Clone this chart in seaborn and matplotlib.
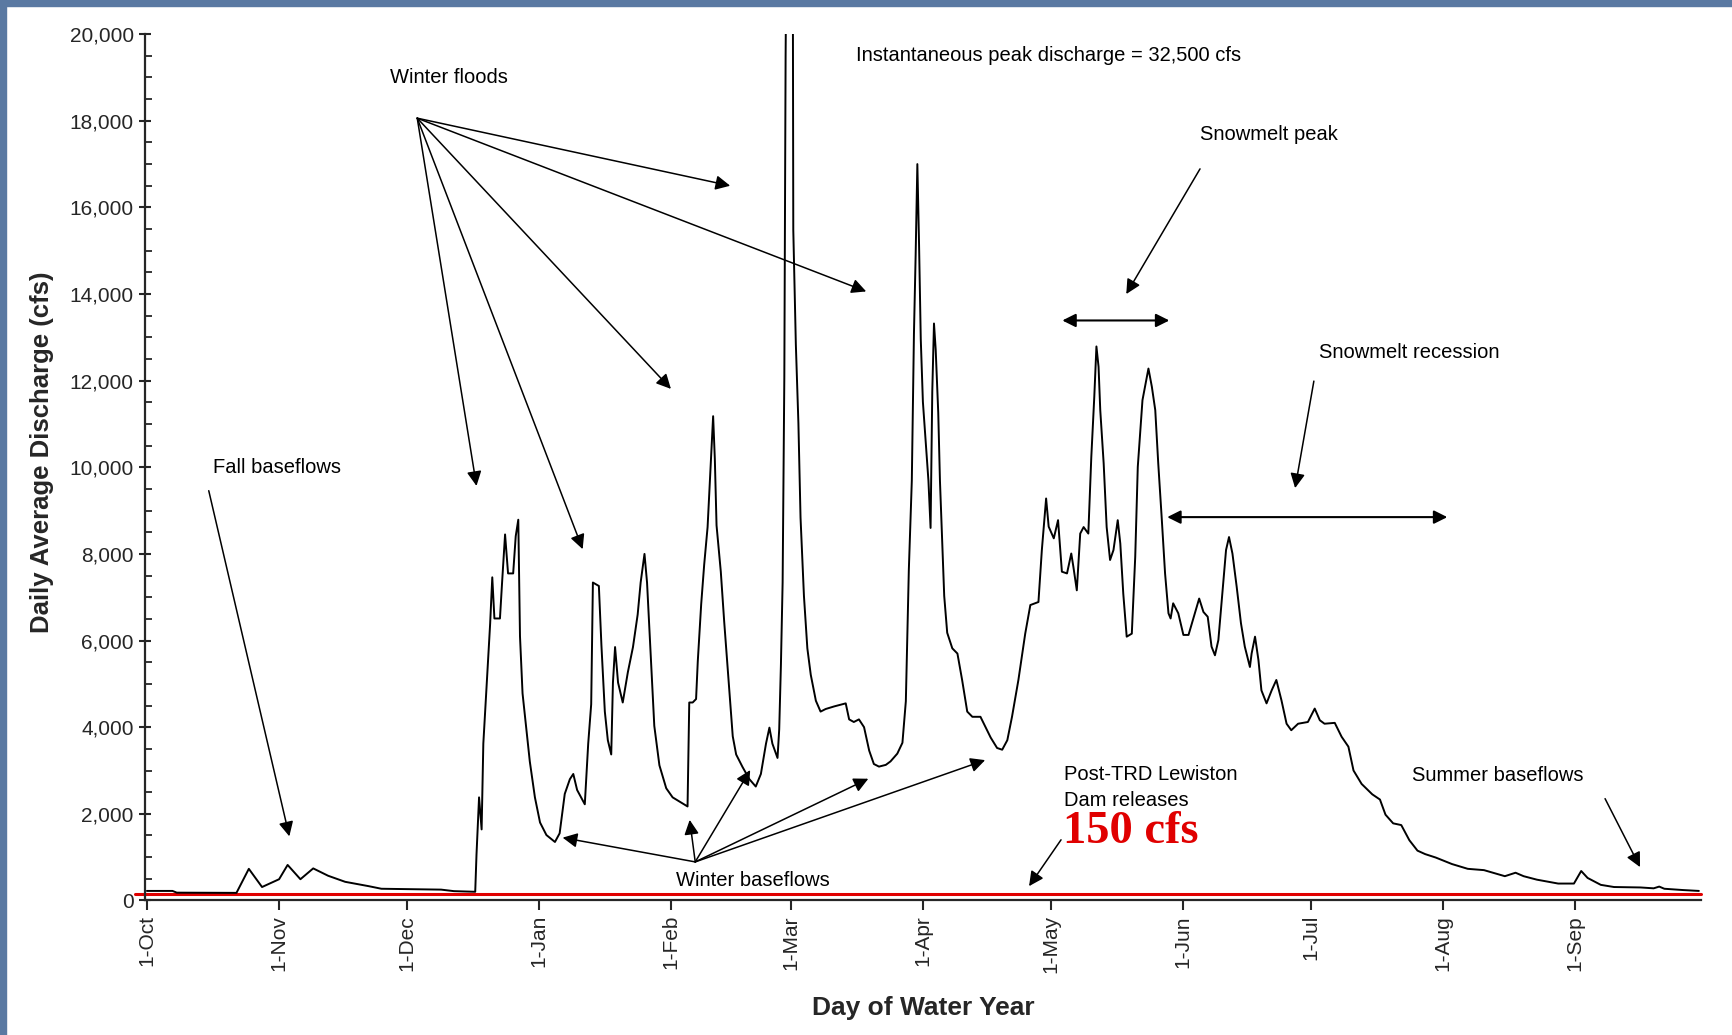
import numpy as np
import pandas as pd
import matplotlib.pyplot as plt
import matplotlib.patches as mpatches
import seaborn as sns

day = [0, 6, 7, 21, 23.9, 27, 31, 33, 36, 39, 42.5, 46.5, 52, 55, 69, 72, 77,
       77.3, 77.9, 78.5, 78.9, 79.7, 80.5, 81, 81.5, 82.8, 83.3, 84, 84.7, 85.9, 86.5, 87.1,
       87.5, 88.1, 88.9, 89.8, 91, 92.2, 93.7, 95.7, 96.8, 98, 99.2, 100, 100.9, 102.7,
       103.5, 104.2, 104.6, 106, 106.6, 107.4, 108.1, 108.9, 109.3, 109.8, 110.5, 111.6,
       112.8, 114, 115.1, 115.8, 116.7, 117.3, 117.9, 119, 120.2, 121.8, 123.3, 125.3,
       126.8, 127.2, 128, 128.8, 129.2, 130, 130.7, 131.5, 132.3, 132.8, 133.2, 133.6,
       134.6, 135.4, 136.6, 137.4, 138.2, 139.7, 141.3, 142.8, 144, 145.2, 146, 146.7,
       147.9, 148.3, 148.7, 149.1, 149.5, 149.8, 150.6, 151.5, 151.6, 152.2, 152.8, 153.3, 154.1,
       154.9, 155.7, 156.9, 158, 159.2, 161.2, 163.9, 164.7, 165.8, 167, 168.2, 169.4,
       170.5, 171.7, 173.3, 174.4, 176, 177.2, 178, 178.7, 179.4, 179.9, 180.3, 180.7,
       181.1, 181.5, 182, 182.6, 183.3, 183.8, 184.2, 184.6, 185, 185.6, 186, 186.5, 187,
       187.7, 188.9, 190.1, 191.2, 192.4, 193.6, 195.5, 196.7, 197.9, 199.4, 200.6, 201.8,
       202.9, 204.4, 206, 207.2, 209.1, 209.9, 210.9, 211.5, 212.7, 213.7, 214.6, 215.8,
       216.8, 217.3, 218.1, 218.9, 219.7, 220.8, 221.5, 222.2, 222.7, 223.2, 223.6, 224.4,
       225.1, 225.9, 226.7, 227.7, 228.3, 229, 229.8, 231, 231.8, 232.4, 233.5, 234.9,
       235.7, 236.5, 237.2, 238, 238.8, 239.6, 240.1, 240.7, 241.9, 243.1, 244.3, 245.8,
       246.8, 247.8, 248.8, 249.7, 250.5, 251.3, 252.1, 253.1, 253.8, 254.6, 255.6, 256.6,
       257.5, 258.7, 259.1, 259.9, 260.7, 261.4, 262.6, 263.8, 264.9, 266.1, 267.3, 268.4,
       270, 272.3, 273.9, 275.1, 276.2, 278.6, 280.2, 281.8, 283, 284.9, 287.4, 289.2,
       290.5, 292.3, 294.2, 296.1, 298, 299.8, 302.3, 306.1, 309.8, 313.6, 318.5, 321,
       322.9, 326, 331, 334.7, 336.4, 337.9, 341, 344.1, 350.3, 353.4, 354.7, 355.9, 360.3, 364]
cfs = [220, 220, 180, 175, 730, 310, 490, 820, 490, 740, 570, 430, 330, 270, 250, 215, 200,
       1060, 2380, 1640, 3620, 4990, 6390, 7460, 6510, 6510, 7340, 8450, 7550, 7550, 8410, 8790,
       6100, 4780, 4030, 3210, 2380, 1800, 1510, 1350, 1550, 2460, 2800, 2920, 2550, 2220,
       3620, 4530, 7340, 7260, 5890, 4360, 3700, 3370, 5030, 5850, 5030, 4570,
       5270, 5850, 6600, 7340, 8000, 7340, 6180, 4030, 3120, 2590, 2380, 2260,
       2170, 4570, 4570, 4650, 5520, 6840, 7750, 8620, 10190, 11180, 10190, 8660,
       7590, 6430, 4860, 3790, 3370, 3080, 2800, 2630, 2920, 3620, 3990, 3620,
       3290, 3950, 5440, 7340, 12090, 19500, 30000, 21000, 15480, 12840, 11020, 8840, 7030,
       5820, 5210, 4610, 4360, 4420, 4480, 4550, 4180, 4120, 4180, 4000, 3460,
       3150, 3090, 3130, 3210, 3390, 3640, 4600, 7630, 9690, 13080, 14900, 17000,
       15140, 12960, 11510, 10660, 9690, 8600, 11750, 13320, 12720, 11260, 9690, 8360, 7030,
       6180, 5820, 5700, 5090, 4360, 4240, 4240, 4000, 3760, 3520, 3480, 3700,
       4240, 5090, 6160, 6820, 6890, 8090, 9280, 8630, 8360, 8780, 7590, 7550,
       8010, 7700, 7160, 8470, 8620, 8470, 10240, 11630, 12790, 12320, 11320, 10090,
       8620, 7860, 8090, 8780, 8240, 7080, 6090, 6160, 7930, 10010, 11550, 12280,
       11860, 11320, 10090, 8850, 7550, 6630, 6510, 6860, 6630, 6130, 6130, 6630,
       6970, 6660, 6550, 5860, 5660, 6010, 6930, 8090, 8390, 8010, 7240, 6400,
       5860, 5390, 5700, 6090, 5550, 4850, 4550, 4850, 5090, 4620, 4080, 3930,
       4080, 4120, 4430, 4160, 4080, 4100, 3780, 3550, 3000, 2690, 2450, 2330,
       1980, 1780, 1740, 1390, 1150, 1070, 990, 840, 730, 700, 560, 640,
       560, 480, 390, 390, 680, 520, 360, 310, 300, 280, 320, 270, 240, 220]

month_labels = ["1-Oct", "1-Nov", "1-Dec", "1-Jan", "1-Feb", "1-Mar",
                "1-Apr", "1-May", "1-Jun", "1-Jul", "1-Aug", "1-Sep"]
month_days = [31, 30, 31, 31, 28, 31, 30, 31, 30, 31, 31, 30]
release_cfs = 150

df = pd.DataFrame({"day": day, "cfs": cfs})
month_starts = np.concatenate([[0], np.cumsum(month_days)[:-1]])

sns.set_style("ticks")
plt.rcParams["font.family"] = ["Liberation Sans", "DejaVu Sans"]

fig = plt.figure(figsize=(17.32, 10.35), dpi=100)
fig.patch.set_facecolor("white")
# slide background strips (top and left)
blue = "#5a79a2"
fig.patches.append(mpatches.Rectangle((0, 1 - 6 / 1035), 1, 6 / 1035, transform=fig.transFigure,
                                      color=blue, zorder=0))
fig.patches.append(mpatches.Rectangle((0, 0), 6 / 1732, 1, transform=fig.transFigure,
                                      color=blue, zorder=0))

ax = fig.add_axes([0.0836, 0.130, 0.8985, 0.837])

sns.lineplot(data=df, x="day", y="cfs", ax=ax, color="black", lw=1.4, zorder=3)
ax.axhline(release_cfs, xmin=-0.006, color="#e00000", lw=2.2, zorder=2, clip_on=False)

ax.set_xlim(-0.5, 364.5)
ax.set_ylim(0, 20000)
ax.set_yticks(np.arange(0, 20001, 2000))
ax.set_yticks(np.arange(0, 20001, 500), minor=True)
ax.set_yticklabels([f"{v:,}" for v in range(0, 20001, 2000)], fontsize=15)
ax.set_xticks(month_starts)
ax.set_xticklabels(month_labels, rotation=90, fontsize=15)
ax.tick_params(axis="y", which="major", direction="inout", length=9, width=1.5)
ax.tick_params(axis="y", which="minor", direction="in", length=5, width=1.3)
ax.tick_params(axis="x", which="major", direction="out", length=7, width=1.5)

for side in ["top", "right"]:
    ax.spines[side].set_visible(False)
ax.spines["left"].set_linewidth(1.6)
ax.spines["bottom"].set_linewidth(1.6)

ax.set_ylabel("Daily Average Discharge (cfs)", fontsize=18.5, fontweight="bold")
ax.set_xlabel("Day of Water Year", fontsize=19, fontweight="bold")
ax.yaxis.set_label_coords(-0.066, 0.517)
ax.yaxis.label.set_va("center")
ax.xaxis.set_label_coords(0.5, -0.124)
ax.xaxis.label.set_va("center")

# annotations
txt = dict(fontsize=14.5, color="black", ha="left", va="center")
arr = dict(arrowstyle="-|>", color="black", lw=1.1, mutation_scale=22, shrinkA=0, shrinkB=0)
dbl = dict(arrowstyle="<|-|>", color="black", lw=1.5, mutation_scale=20, shrinkA=0, shrinkB=0)

ax.text(57, 19000, "Winter floods", **txt)
for tgt in [(77.3, 9570), (102.2, 8110), (122.9, 11810), (136.8, 16500), (168.7, 14060)]:
    ax.annotate("", xy=tgt, xytext=(63.4, 18060), arrowprops=arr)

ax.text(15.5, 10000, "Fall baseflows", **txt)
ax.annotate("", xy=(33.4, 1480), xytext=(14.5, 9460), arrowprops=arr)

ax.text(166.3, 19510, "Instantaneous peak discharge = 32,500 cfs", **txt)

ax.text(247, 17680, "Snowmelt peak", **txt)
ax.annotate("", xy=(229.7, 14000), xytext=(247, 16890), arrowprops=arr)
ax.annotate("", xy=(214.7, 13390), xytext=(239.8, 13390), arrowprops=dbl)

ax.text(275, 12650, "Snowmelt recession", **txt)
ax.annotate("", xy=(269.3, 9520), xytext=(273.7, 11990), arrowprops=arr)
ax.annotate("", xy=(239.3, 8850), xytext=(305, 8850), arrowprops=dbl)

ax.text(124.2, 460, "Winter baseflows", **txt)
for tgt in [(97.5, 1450), (127.3, 1860), (141.5, 3010), (169.2, 2810), (196.6, 3240)]:
    ax.annotate("", xy=tgt, xytext=(128.6, 890), arrowprops=arr)

ax.text(215.2, 2910, "Post-TRD Lewiston", **txt)
ax.text(215.2, 2300, "Dam releases", **txt)
ax.text(214.8, 1580, "150 cfs", fontsize=33.5, fontweight="bold", color="#e00000",
        family=["Liberation Serif", "DejaVu Serif"], ha="left", va="center")
ax.annotate("", xy=(206.9, 330), xytext=(214.4, 1400), arrowprops=arr)

ax.text(296.7, 2880, "Summer baseflows", **txt)
ax.annotate("", xy=(350.2, 770), xytext=(342, 2350), arrowprops=arr)

fig.savefig("out.png", dpi=100, facecolor=fig.get_facecolor())
